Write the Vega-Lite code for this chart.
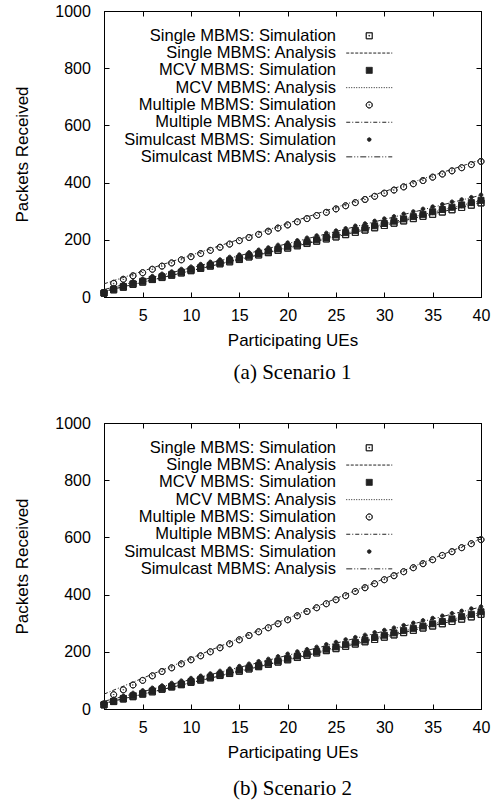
{
"$schema": "https://vega.github.io/schema/vega-lite/v6.json",
"padding": {"left": 13, "top": 2, "right": 5, "bottom": 5},
"background": "white",
"config": {
  "font": "Liberation Sans",
  "view": {"stroke": "black", "strokeWidth": 1},
  "axis": {"grid": false, "domainColor": "black", "tickColor": "black", "labelColor": "black", "titleColor": "black", "labelFont": "Liberation Sans", "titleFont": "Liberation Sans", "labelFontSize": 16, "titleFontSize": 17, "titleFontWeight": "normal", "tickSize": -5, "domainWidth": 1, "tickWidth": 1},
  "legend": {"labelFont": "Liberation Sans", "labelFontSize": 16.5, "labelColor": "black", "labelAlign": "right", "labelOffset": -41.5, "labelLimit": 400, "padding": 0, "rowPadding": 0.3, "symbolSize": 36, "symbolStrokeWidth": 1, "symbolFillColor": "#222", "symbolStrokeColor": "#222", "columns": 1}
},
"spacing": 30,
"datasets": {"d": [
{"sc":1,"s":"a","x":1,"y":14},{"sc":1,"s":"a","x":2,"y":25},{"sc":1,"s":"a","x":3,"y":34},{"sc":1,"s":"a","x":4,"y":44},{"sc":1,"s":"a","x":5,"y":52},{"sc":1,"s":"a","x":6,"y":61},{"sc":1,"s":"a","x":7,"y":68},{"sc":1,"s":"a","x":8,"y":76},{"sc":1,"s":"a","x":9,"y":84},{"sc":1,"s":"a","x":10,"y":92},
{"sc":1,"s":"a","x":11,"y":100},{"sc":1,"s":"a","x":12,"y":108},{"sc":1,"s":"a","x":13,"y":116},{"sc":1,"s":"a","x":14,"y":123},{"sc":1,"s":"a","x":15,"y":131},{"sc":1,"s":"a","x":16,"y":140},{"sc":1,"s":"a","x":17,"y":147},{"sc":1,"s":"a","x":18,"y":155},{"sc":1,"s":"a","x":19,"y":163},{"sc":1,"s":"a","x":20,"y":171},
{"sc":1,"s":"a","x":21,"y":179},{"sc":1,"s":"a","x":22,"y":187},{"sc":1,"s":"a","x":23,"y":195},{"sc":1,"s":"a","x":24,"y":203},{"sc":1,"s":"a","x":25,"y":210},{"sc":1,"s":"a","x":26,"y":218},{"sc":1,"s":"a","x":27,"y":226},{"sc":1,"s":"a","x":28,"y":234},{"sc":1,"s":"a","x":29,"y":242},{"sc":1,"s":"a","x":30,"y":250},
{"sc":1,"s":"a","x":31,"y":258},{"sc":1,"s":"a","x":32,"y":266},{"sc":1,"s":"a","x":33,"y":274},{"sc":1,"s":"a","x":34,"y":282},{"sc":1,"s":"a","x":35,"y":289},{"sc":1,"s":"a","x":36,"y":297},{"sc":1,"s":"a","x":37,"y":305},{"sc":1,"s":"a","x":38,"y":313},{"sc":1,"s":"a","x":39,"y":321},{"sc":1,"s":"a","x":40,"y":329},
{"sc":1,"s":"b","x":1,"y":13},{"sc":1,"s":"b","x":2,"y":27},{"sc":1,"s":"b","x":3,"y":37},{"sc":1,"s":"b","x":4,"y":46},{"sc":1,"s":"b","x":5,"y":55},{"sc":1,"s":"b","x":6,"y":62},{"sc":1,"s":"b","x":7,"y":71},{"sc":1,"s":"b","x":8,"y":79},{"sc":1,"s":"b","x":9,"y":87},{"sc":1,"s":"b","x":10,"y":95},
{"sc":1,"s":"b","x":11,"y":103},{"sc":1,"s":"b","x":12,"y":111},{"sc":1,"s":"b","x":13,"y":119},{"sc":1,"s":"b","x":14,"y":128},{"sc":1,"s":"b","x":15,"y":135},{"sc":1,"s":"b","x":16,"y":144},{"sc":1,"s":"b","x":17,"y":152},{"sc":1,"s":"b","x":18,"y":160},{"sc":1,"s":"b","x":19,"y":168},{"sc":1,"s":"b","x":20,"y":176},
{"sc":1,"s":"b","x":21,"y":184},{"sc":1,"s":"b","x":22,"y":192},{"sc":1,"s":"b","x":23,"y":200},{"sc":1,"s":"b","x":24,"y":208},{"sc":1,"s":"b","x":25,"y":217},{"sc":1,"s":"b","x":26,"y":225},{"sc":1,"s":"b","x":27,"y":233},{"sc":1,"s":"b","x":28,"y":241},{"sc":1,"s":"b","x":29,"y":249},{"sc":1,"s":"b","x":30,"y":257},
{"sc":1,"s":"b","x":31,"y":265},{"sc":1,"s":"b","x":32,"y":273},{"sc":1,"s":"b","x":33,"y":281},{"sc":1,"s":"b","x":34,"y":289},{"sc":1,"s":"b","x":35,"y":298},{"sc":1,"s":"b","x":36,"y":306},{"sc":1,"s":"b","x":37,"y":314},{"sc":1,"s":"b","x":38,"y":322},{"sc":1,"s":"b","x":39,"y":330},{"sc":1,"s":"b","x":40,"y":338},
{"sc":1,"s":"c","x":1,"y":16},{"sc":1,"s":"c","x":2,"y":48},{"sc":1,"s":"c","x":3,"y":62},{"sc":1,"s":"c","x":4,"y":74},{"sc":1,"s":"c","x":5,"y":85},{"sc":1,"s":"c","x":6,"y":97},{"sc":1,"s":"c","x":7,"y":108},{"sc":1,"s":"c","x":8,"y":119},{"sc":1,"s":"c","x":9,"y":130},{"sc":1,"s":"c","x":10,"y":141},
{"sc":1,"s":"c","x":11,"y":152},{"sc":1,"s":"c","x":12,"y":163},{"sc":1,"s":"c","x":13,"y":174},{"sc":1,"s":"c","x":14,"y":185},{"sc":1,"s":"c","x":15,"y":197},{"sc":1,"s":"c","x":16,"y":208},{"sc":1,"s":"c","x":17,"y":219},{"sc":1,"s":"c","x":18,"y":230},{"sc":1,"s":"c","x":19,"y":241},{"sc":1,"s":"c","x":20,"y":252},
{"sc":1,"s":"c","x":21,"y":263},{"sc":1,"s":"c","x":22,"y":274},{"sc":1,"s":"c","x":23,"y":285},{"sc":1,"s":"c","x":24,"y":296},{"sc":1,"s":"c","x":25,"y":308},{"sc":1,"s":"c","x":26,"y":319},{"sc":1,"s":"c","x":27,"y":330},{"sc":1,"s":"c","x":28,"y":341},{"sc":1,"s":"c","x":29,"y":352},{"sc":1,"s":"c","x":30,"y":363},
{"sc":1,"s":"c","x":31,"y":374},{"sc":1,"s":"c","x":32,"y":385},{"sc":1,"s":"c","x":33,"y":396},{"sc":1,"s":"c","x":34,"y":407},{"sc":1,"s":"c","x":35,"y":419},{"sc":1,"s":"c","x":36,"y":430},{"sc":1,"s":"c","x":37,"y":441},{"sc":1,"s":"c","x":38,"y":452},{"sc":1,"s":"c","x":39,"y":463},{"sc":1,"s":"c","x":40,"y":474},
{"sc":1,"s":"d","x":1,"y":15},{"sc":1,"s":"d","x":2,"y":35},{"sc":1,"s":"d","x":3,"y":45},{"sc":1,"s":"d","x":4,"y":55},{"sc":1,"s":"d","x":5,"y":64},{"sc":1,"s":"d","x":6,"y":73},{"sc":1,"s":"d","x":7,"y":81},{"sc":1,"s":"d","x":8,"y":89},{"sc":1,"s":"d","x":9,"y":98},{"sc":1,"s":"d","x":10,"y":106},
{"sc":1,"s":"d","x":11,"y":115},{"sc":1,"s":"d","x":12,"y":123},{"sc":1,"s":"d","x":13,"y":131},{"sc":1,"s":"d","x":14,"y":140},{"sc":1,"s":"d","x":15,"y":148},{"sc":1,"s":"d","x":16,"y":156},{"sc":1,"s":"d","x":17,"y":165},{"sc":1,"s":"d","x":18,"y":173},{"sc":1,"s":"d","x":19,"y":182},{"sc":1,"s":"d","x":20,"y":190},
{"sc":1,"s":"d","x":21,"y":198},{"sc":1,"s":"d","x":22,"y":207},{"sc":1,"s":"d","x":23,"y":215},{"sc":1,"s":"d","x":24,"y":224},{"sc":1,"s":"d","x":25,"y":232},{"sc":1,"s":"d","x":26,"y":240},{"sc":1,"s":"d","x":27,"y":249},{"sc":1,"s":"d","x":28,"y":257},{"sc":1,"s":"d","x":29,"y":266},{"sc":1,"s":"d","x":30,"y":274},
{"sc":1,"s":"d","x":31,"y":282},{"sc":1,"s":"d","x":32,"y":291},{"sc":1,"s":"d","x":33,"y":299},{"sc":1,"s":"d","x":34,"y":308},{"sc":1,"s":"d","x":35,"y":316},{"sc":1,"s":"d","x":36,"y":324},{"sc":1,"s":"d","x":37,"y":333},{"sc":1,"s":"d","x":38,"y":341},{"sc":1,"s":"d","x":39,"y":349},{"sc":1,"s":"d","x":40,"y":357},
{"sc":1,"s":"e","x":1,"y":20},{"sc":1,"s":"e","x":40,"y":330},
{"sc":1,"s":"f","x":1,"y":19},{"sc":1,"s":"f","x":40,"y":337},
{"sc":1,"s":"g","x":1,"y":46},{"sc":1,"s":"g","x":40,"y":480},
{"sc":1,"s":"h","x":1,"y":26},{"sc":1,"s":"h","x":40,"y":356},
{"sc":2,"s":"a","x":1,"y":15},{"sc":2,"s":"a","x":2,"y":26},{"sc":2,"s":"a","x":3,"y":35},{"sc":2,"s":"a","x":4,"y":43},{"sc":2,"s":"a","x":5,"y":52},{"sc":2,"s":"a","x":6,"y":60},{"sc":2,"s":"a","x":7,"y":69},{"sc":2,"s":"a","x":8,"y":77},{"sc":2,"s":"a","x":9,"y":85},{"sc":2,"s":"a","x":10,"y":93},
{"sc":2,"s":"a","x":11,"y":101},{"sc":2,"s":"a","x":12,"y":109},{"sc":2,"s":"a","x":13,"y":117},{"sc":2,"s":"a","x":14,"y":124},{"sc":2,"s":"a","x":15,"y":132},{"sc":2,"s":"a","x":16,"y":140},{"sc":2,"s":"a","x":17,"y":148},{"sc":2,"s":"a","x":18,"y":156},{"sc":2,"s":"a","x":19,"y":164},{"sc":2,"s":"a","x":20,"y":172},
{"sc":2,"s":"a","x":21,"y":180},{"sc":2,"s":"a","x":22,"y":188},{"sc":2,"s":"a","x":23,"y":196},{"sc":2,"s":"a","x":24,"y":204},{"sc":2,"s":"a","x":25,"y":211},{"sc":2,"s":"a","x":26,"y":219},{"sc":2,"s":"a","x":27,"y":227},{"sc":2,"s":"a","x":28,"y":235},{"sc":2,"s":"a","x":29,"y":243},{"sc":2,"s":"a","x":30,"y":251},
{"sc":2,"s":"a","x":31,"y":259},{"sc":2,"s":"a","x":32,"y":267},{"sc":2,"s":"a","x":33,"y":275},{"sc":2,"s":"a","x":34,"y":283},{"sc":2,"s":"a","x":35,"y":290},{"sc":2,"s":"a","x":36,"y":298},{"sc":2,"s":"a","x":37,"y":306},{"sc":2,"s":"a","x":38,"y":314},{"sc":2,"s":"a","x":39,"y":322},{"sc":2,"s":"a","x":40,"y":331},
{"sc":2,"s":"b","x":1,"y":14},{"sc":2,"s":"b","x":2,"y":27},{"sc":2,"s":"b","x":3,"y":37},{"sc":2,"s":"b","x":4,"y":46},{"sc":2,"s":"b","x":5,"y":54},{"sc":2,"s":"b","x":6,"y":63},{"sc":2,"s":"b","x":7,"y":71},{"sc":2,"s":"b","x":8,"y":79},{"sc":2,"s":"b","x":9,"y":87},{"sc":2,"s":"b","x":10,"y":96},
{"sc":2,"s":"b","x":11,"y":104},{"sc":2,"s":"b","x":12,"y":112},{"sc":2,"s":"b","x":13,"y":120},{"sc":2,"s":"b","x":14,"y":128},{"sc":2,"s":"b","x":15,"y":136},{"sc":2,"s":"b","x":16,"y":144},{"sc":2,"s":"b","x":17,"y":152},{"sc":2,"s":"b","x":18,"y":160},{"sc":2,"s":"b","x":19,"y":168},{"sc":2,"s":"b","x":20,"y":176},
{"sc":2,"s":"b","x":21,"y":185},{"sc":2,"s":"b","x":22,"y":193},{"sc":2,"s":"b","x":23,"y":201},{"sc":2,"s":"b","x":24,"y":209},{"sc":2,"s":"b","x":25,"y":217},{"sc":2,"s":"b","x":26,"y":225},{"sc":2,"s":"b","x":27,"y":233},{"sc":2,"s":"b","x":28,"y":241},{"sc":2,"s":"b","x":29,"y":250},{"sc":2,"s":"b","x":30,"y":258},
{"sc":2,"s":"b","x":31,"y":266},{"sc":2,"s":"b","x":32,"y":274},{"sc":2,"s":"b","x":33,"y":282},{"sc":2,"s":"b","x":34,"y":290},{"sc":2,"s":"b","x":35,"y":298},{"sc":2,"s":"b","x":36,"y":306},{"sc":2,"s":"b","x":37,"y":315},{"sc":2,"s":"b","x":38,"y":323},{"sc":2,"s":"b","x":39,"y":331},{"sc":2,"s":"b","x":40,"y":340},
{"sc":2,"s":"c","x":1,"y":18},{"sc":2,"s":"c","x":2,"y":50},{"sc":2,"s":"c","x":3,"y":67},{"sc":2,"s":"c","x":4,"y":84},{"sc":2,"s":"c","x":5,"y":100},{"sc":2,"s":"c","x":6,"y":116},{"sc":2,"s":"c","x":7,"y":131},{"sc":2,"s":"c","x":8,"y":144},{"sc":2,"s":"c","x":9,"y":158},{"sc":2,"s":"c","x":10,"y":172},
{"sc":2,"s":"c","x":11,"y":186},{"sc":2,"s":"c","x":12,"y":200},{"sc":2,"s":"c","x":13,"y":214},{"sc":2,"s":"c","x":14,"y":228},{"sc":2,"s":"c","x":15,"y":242},{"sc":2,"s":"c","x":16,"y":257},{"sc":2,"s":"c","x":17,"y":270},{"sc":2,"s":"c","x":18,"y":284},{"sc":2,"s":"c","x":19,"y":298},{"sc":2,"s":"c","x":20,"y":312},
{"sc":2,"s":"c","x":21,"y":326},{"sc":2,"s":"c","x":22,"y":341},{"sc":2,"s":"c","x":23,"y":354},{"sc":2,"s":"c","x":24,"y":368},{"sc":2,"s":"c","x":25,"y":382},{"sc":2,"s":"c","x":26,"y":396},{"sc":2,"s":"c","x":27,"y":411},{"sc":2,"s":"c","x":28,"y":424},{"sc":2,"s":"c","x":29,"y":438},{"sc":2,"s":"c","x":30,"y":452},
{"sc":2,"s":"c","x":31,"y":466},{"sc":2,"s":"c","x":32,"y":480},{"sc":2,"s":"c","x":33,"y":494},{"sc":2,"s":"c","x":34,"y":508},{"sc":2,"s":"c","x":35,"y":522},{"sc":2,"s":"c","x":36,"y":537},{"sc":2,"s":"c","x":37,"y":550},{"sc":2,"s":"c","x":38,"y":564},{"sc":2,"s":"c","x":39,"y":578},{"sc":2,"s":"c","x":40,"y":592},
{"sc":2,"s":"d","x":1,"y":17},{"sc":2,"s":"d","x":2,"y":36},{"sc":2,"s":"d","x":3,"y":46},{"sc":2,"s":"d","x":4,"y":56},{"sc":2,"s":"d","x":5,"y":65},{"sc":2,"s":"d","x":6,"y":74},{"sc":2,"s":"d","x":7,"y":82},{"sc":2,"s":"d","x":8,"y":91},{"sc":2,"s":"d","x":9,"y":99},{"sc":2,"s":"d","x":10,"y":108},
{"sc":2,"s":"d","x":11,"y":116},{"sc":2,"s":"d","x":12,"y":124},{"sc":2,"s":"d","x":13,"y":133},{"sc":2,"s":"d","x":14,"y":141},{"sc":2,"s":"d","x":15,"y":150},{"sc":2,"s":"d","x":16,"y":158},{"sc":2,"s":"d","x":17,"y":167},{"sc":2,"s":"d","x":18,"y":175},{"sc":2,"s":"d","x":19,"y":184},{"sc":2,"s":"d","x":20,"y":193},
{"sc":2,"s":"d","x":21,"y":201},{"sc":2,"s":"d","x":22,"y":209},{"sc":2,"s":"d","x":23,"y":217},{"sc":2,"s":"d","x":24,"y":226},{"sc":2,"s":"d","x":25,"y":234},{"sc":2,"s":"d","x":26,"y":243},{"sc":2,"s":"d","x":27,"y":251},{"sc":2,"s":"d","x":28,"y":259},{"sc":2,"s":"d","x":29,"y":268},{"sc":2,"s":"d","x":30,"y":276},
{"sc":2,"s":"d","x":31,"y":284},{"sc":2,"s":"d","x":32,"y":293},{"sc":2,"s":"d","x":33,"y":301},{"sc":2,"s":"d","x":34,"y":310},{"sc":2,"s":"d","x":35,"y":318},{"sc":2,"s":"d","x":36,"y":326},{"sc":2,"s":"d","x":37,"y":335},{"sc":2,"s":"d","x":38,"y":343},{"sc":2,"s":"d","x":39,"y":351},{"sc":2,"s":"d","x":40,"y":358},
{"sc":2,"s":"e","x":1,"y":20},{"sc":2,"s":"e","x":40,"y":331},
{"sc":2,"s":"f","x":1,"y":19},{"sc":2,"s":"f","x":40,"y":338},
{"sc":2,"s":"g","x":1,"y":52},{"sc":2,"s":"g","x":40,"y":595},
{"sc":2,"s":"h","x":1,"y":27},{"sc":2,"s":"h","x":40,"y":357}
]},
"vconcat": [
{
  "width": 377, "height": 286,
  "title": {"text": "(a) Scenario 1", "orient": "bottom", "font": "Liberation Serif", "fontSize": 21, "fontWeight": "normal", "color": "black", "anchor": "middle", "offset": 14},
  "data": {"name": "d"},
  "transform": [{"filter": "datum.sc == 1"}],
  "layer": [
    {
      "transform": [{"filter": "indexof('efgh', datum.s) >= 0"}],
      "mark": {"type": "line", "stroke": "#222", "strokeWidth": 1, "clip": false},
      "encoding": {
        "x": {"field": "x", "type": "quantitative", "scale": {"domain": [1, 40], "nice": false, "zero": false}, "axis": {"orient": "bottom", "values": [5,10,15,20,25,30,35,40], "labelFlush": false, "labelPadding": 15, "titlePadding": 9, "title": "Participating UEs"}},
        "y": {"field": "y", "type": "quantitative", "scale": {"domain": [0, 1000], "nice": false}, "axis": {"orient": "left", "values": [0,200,400,600,800,1000], "format": "d", "labelPadding": 18.6, "titlePadding": 23, "title": "Packets Received"}},
        "strokeDash": {"field": "s", "type": "nominal",
          "scale": {"domain": ["a","e","b","f","c","g","d","h"], "range": [[1,0],[3,1.5],[1,0],[1,1.5],[1,0],[4,2,1,2],[1,0],[6,2,1,2,1,2]]},
          "legend": {"title": null, "orient": "none", "legendX": 257, "legendY": 16.5, "encoding": {"symbols": {"stroke": {"value": "#222"}, "strokeWidth": {"value": 1}, "fill": {"value": "#222"}}}, "labelExpr": "datum.value=='a'?'Single MBMS: Simulation':datum.value=='e'?'Single MBMS: Analysis':datum.value=='b'?'MCV MBMS: Simulation':datum.value=='f'?'MCV MBMS: Analysis':datum.value=='c'?'Multiple MBMS: Simulation':datum.value=='g'?'Multiple MBMS: Analysis':datum.value=='d'?'Simulcast MBMS: Simulation':'Simulcast MBMS: Analysis'"}}
      }
    },
    {
      "transform": [{"filter": "indexof('abcd', datum.s) >= 0"}],
      "mark": {"type": "point", "filled": true, "fill": "#222", "stroke": "#222", "strokeWidth": 1, "size": 36, "opacity": 1, "clip": false},
      "encoding": {
        "x": {"field": "x", "type": "quantitative", "axis": {"orient": "top", "values": [5,10,15,20,25,30,35,40], "labels": false, "title": null}},
        "y": {"field": "y", "type": "quantitative", "axis": {"orient": "right", "values": [0,200,400,600,800,1000], "labels": false, "title": null}},
        "shape": {"field": "s", "type": "nominal",
          "scale": {"domain": ["a","e","b","f","c","g","d","h"], "range": ["M-1,-1H1V1H-1ZM-1,-1V1H1V-1ZM-0.12,-0.12H0.12V0.12H-0.12Z","M-7.67,0H7.67","M-1,-1H1V1H-1Z","M-7.67,0H7.67","M0,-1A1,1,0,1,1,0,1A1,1,0,1,1,0,-1ZM0,-1A1,1,0,1,0,0,1A1,1,0,1,0,0,-1ZM0,-0.12A0.12,0.12,0,1,1,0,0.12A0.12,0.12,0,1,1,0,-0.12Z","M-7.67,0H7.67","M0,-0.6A0.6,0.6,0,1,1,0,0.6A0.6,0.6,0,1,1,0,-0.6Z","M-7.67,0H7.67"]},
          "legend": {"title": null, "orient": "none", "legendX": 257, "legendY": 16.5, "encoding": {"symbols": {"stroke": {"value": "#222"}, "strokeWidth": {"value": 1}, "fill": {"value": "#222"}}}, "labelExpr": "datum.value=='a'?'Single MBMS: Simulation':datum.value=='e'?'Single MBMS: Analysis':datum.value=='b'?'MCV MBMS: Simulation':datum.value=='f'?'MCV MBMS: Analysis':datum.value=='c'?'Multiple MBMS: Simulation':datum.value=='g'?'Multiple MBMS: Analysis':datum.value=='d'?'Simulcast MBMS: Simulation':'Simulcast MBMS: Analysis'"}}
      }
    }
  ]
},
{
  "width": 377, "height": 286,
  "title": {"text": "(b) Scenario 2", "orient": "bottom", "font": "Liberation Serif", "fontSize": 21, "fontWeight": "normal", "color": "black", "anchor": "middle", "offset": 18},
  "data": {"name": "d"},
  "transform": [{"filter": "datum.sc == 2"}],
  "layer": [
    {
      "transform": [{"filter": "indexof('efgh', datum.s) >= 0"}],
      "mark": {"type": "line", "stroke": "#222", "strokeWidth": 1, "clip": false},
      "encoding": {
        "x": {"field": "x", "type": "quantitative", "scale": {"domain": [1, 40], "nice": false, "zero": false}, "axis": {"orient": "bottom", "values": [5,10,15,20,25,30,35,40], "labelFlush": false, "labelPadding": 15, "titlePadding": 9, "title": "Participating UEs"}},
        "y": {"field": "y", "type": "quantitative", "scale": {"domain": [0, 1000], "nice": false}, "axis": {"orient": "left", "values": [0,200,400,600,800,1000], "format": "d", "labelPadding": 18.6, "titlePadding": 23, "title": "Packets Received"}},
        "strokeDash": {"field": "s", "type": "nominal",
          "scale": {"domain": ["a","e","b","f","c","g","d","h"], "range": [[1,0],[3,1.5],[1,0],[1,1.5],[1,0],[4,2,1,2],[1,0],[6,2,1,2,1,2]]},
          "legend": {"title": null, "orient": "none", "legendX": 257, "legendY": 16.5, "encoding": {"symbols": {"stroke": {"value": "#222"}, "strokeWidth": {"value": 1}, "fill": {"value": "#222"}}}, "labelExpr": "datum.value=='a'?'Single MBMS: Simulation':datum.value=='e'?'Single MBMS: Analysis':datum.value=='b'?'MCV MBMS: Simulation':datum.value=='f'?'MCV MBMS: Analysis':datum.value=='c'?'Multiple MBMS: Simulation':datum.value=='g'?'Multiple MBMS: Analysis':datum.value=='d'?'Simulcast MBMS: Simulation':'Simulcast MBMS: Analysis'"}}
      }
    },
    {
      "transform": [{"filter": "indexof('abcd', datum.s) >= 0"}],
      "mark": {"type": "point", "filled": true, "fill": "#222", "stroke": "#222", "strokeWidth": 1, "size": 36, "opacity": 1, "clip": false},
      "encoding": {
        "x": {"field": "x", "type": "quantitative", "axis": {"orient": "top", "values": [5,10,15,20,25,30,35,40], "labels": false, "title": null}},
        "y": {"field": "y", "type": "quantitative", "axis": {"orient": "right", "values": [0,200,400,600,800,1000], "labels": false, "title": null}},
        "shape": {"field": "s", "type": "nominal",
          "scale": {"domain": ["a","e","b","f","c","g","d","h"], "range": ["M-1,-1H1V1H-1ZM-1,-1V1H1V-1ZM-0.12,-0.12H0.12V0.12H-0.12Z","M-7.67,0H7.67","M-1,-1H1V1H-1Z","M-7.67,0H7.67","M0,-1A1,1,0,1,1,0,1A1,1,0,1,1,0,-1ZM0,-1A1,1,0,1,0,0,1A1,1,0,1,0,0,-1ZM0,-0.12A0.12,0.12,0,1,1,0,0.12A0.12,0.12,0,1,1,0,-0.12Z","M-7.67,0H7.67","M0,-0.6A0.6,0.6,0,1,1,0,0.6A0.6,0.6,0,1,1,0,-0.6Z","M-7.67,0H7.67"]},
          "legend": {"title": null, "orient": "none", "legendX": 257, "legendY": 16.5, "encoding": {"symbols": {"stroke": {"value": "#222"}, "strokeWidth": {"value": 1}, "fill": {"value": "#222"}}}, "labelExpr": "datum.value=='a'?'Single MBMS: Simulation':datum.value=='e'?'Single MBMS: Analysis':datum.value=='b'?'MCV MBMS: Simulation':datum.value=='f'?'MCV MBMS: Analysis':datum.value=='c'?'Multiple MBMS: Simulation':datum.value=='g'?'Multiple MBMS: Analysis':datum.value=='d'?'Simulcast MBMS: Simulation':'Simulcast MBMS: Analysis'"}}
      }
    }
  ]
}
],
"resolve": {"scale": {"shape": "independent", "strokeDash": "independent"}, "legend": {"shape": "independent", "strokeDash": "independent"}}
}
